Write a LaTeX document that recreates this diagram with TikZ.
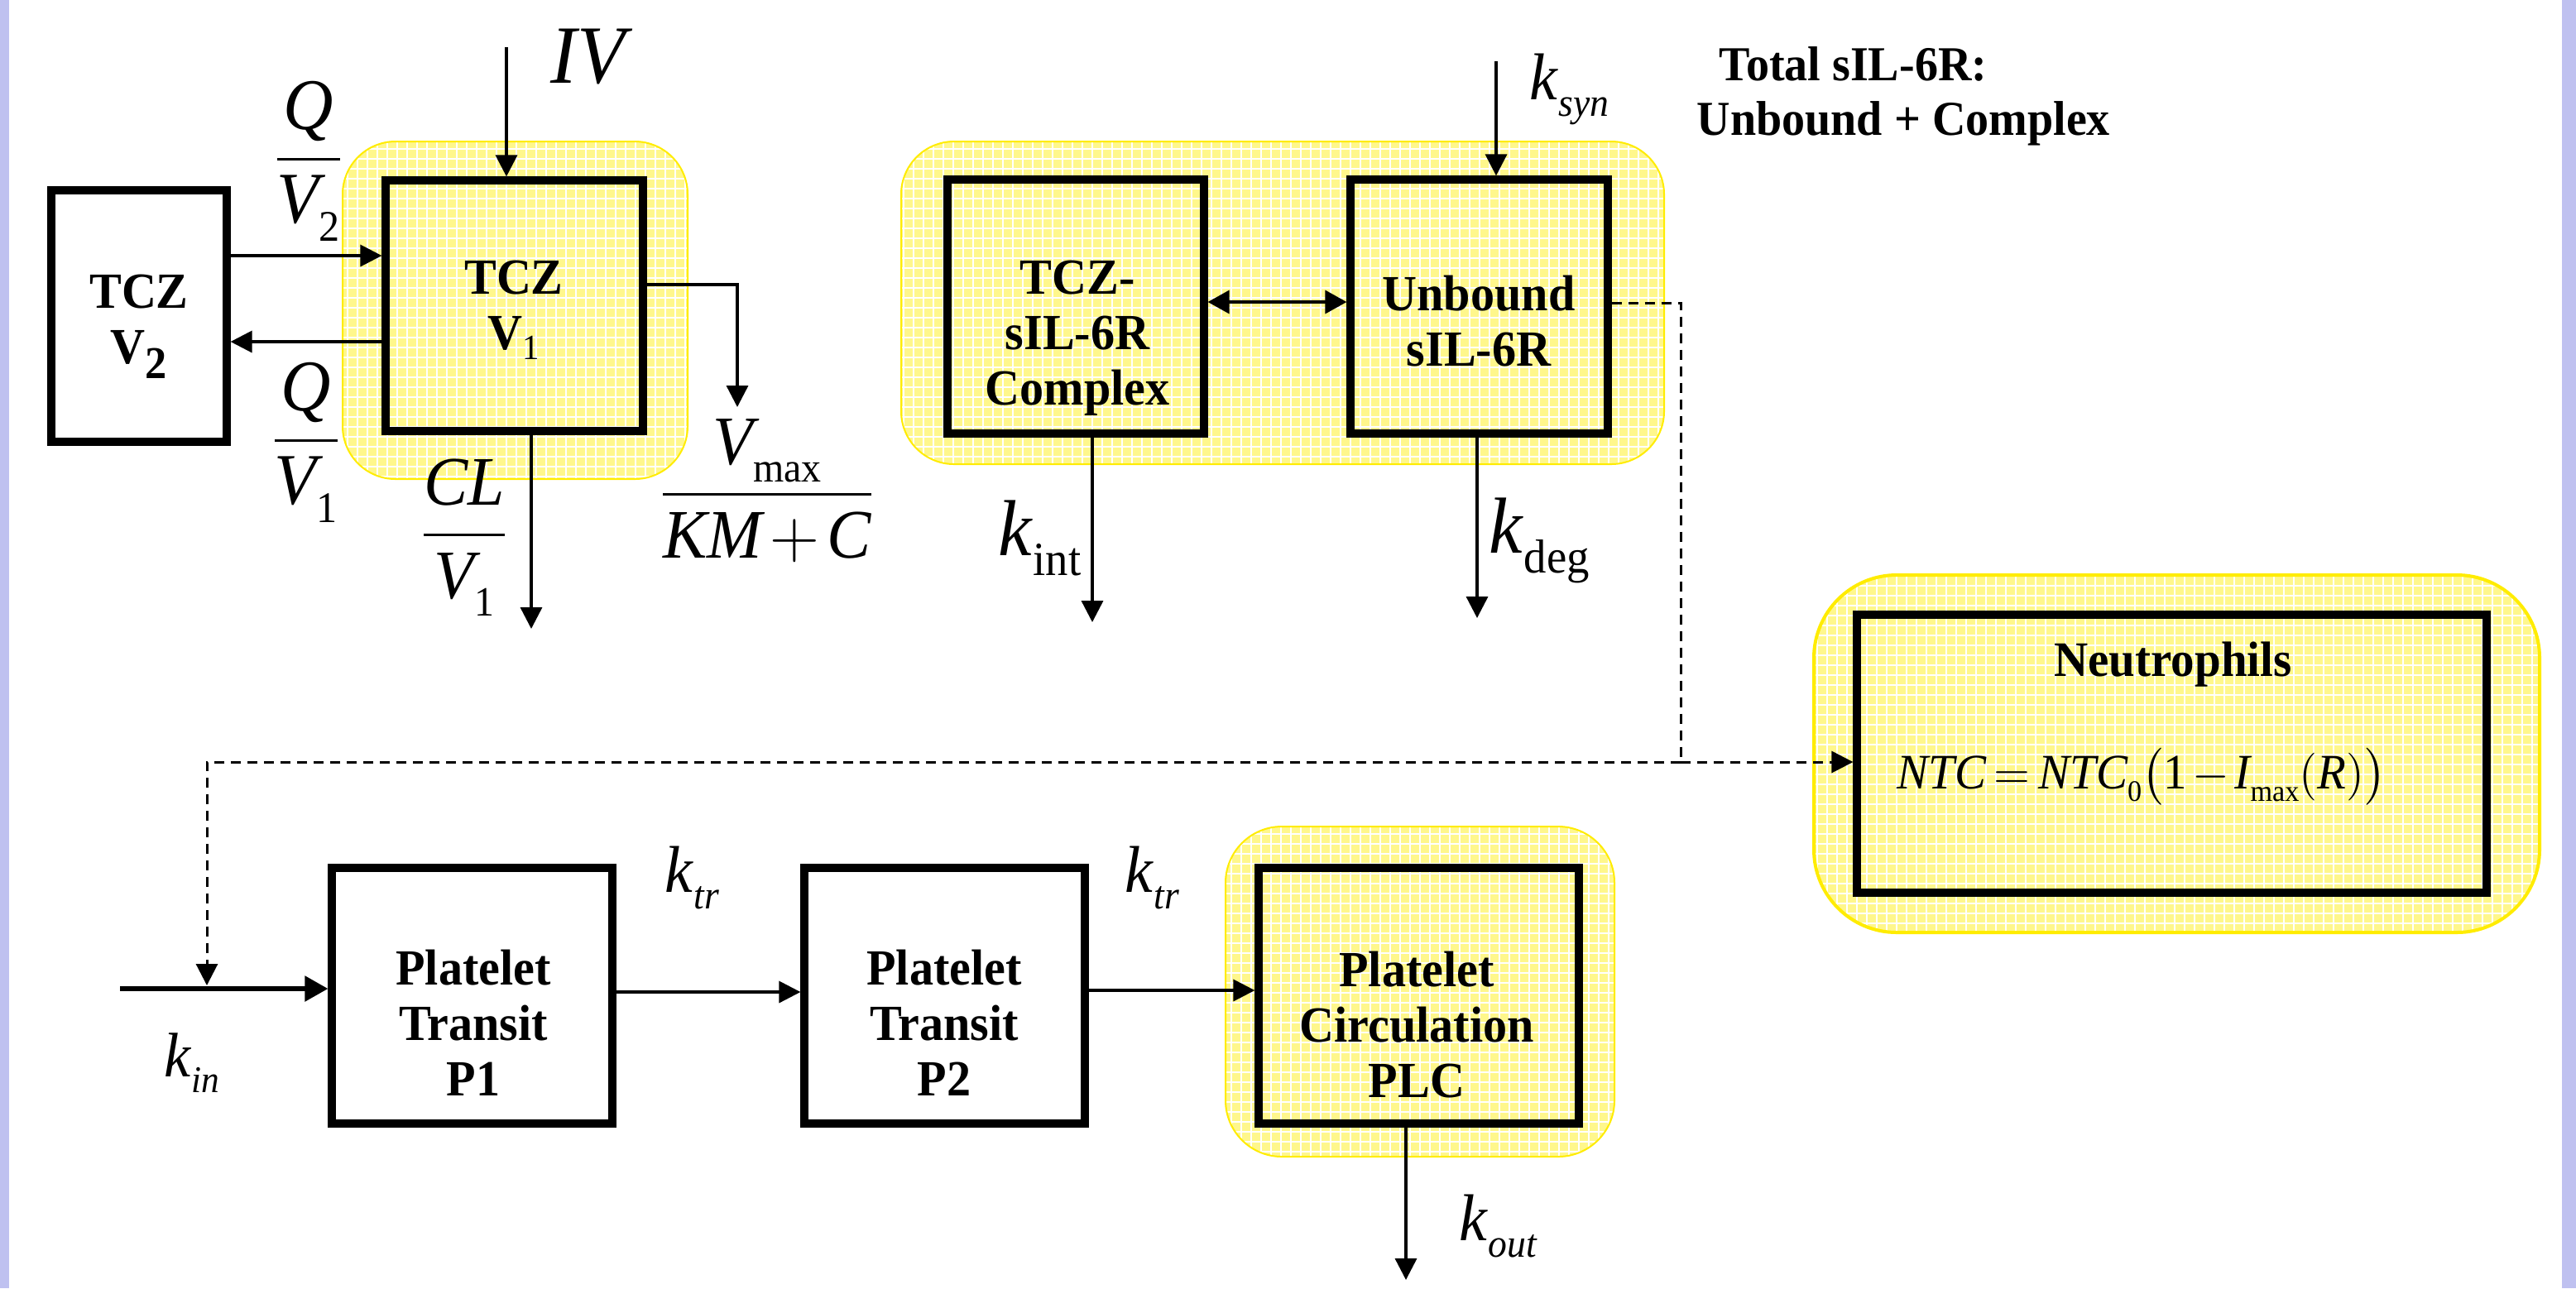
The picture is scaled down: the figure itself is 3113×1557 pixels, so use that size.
\documentclass[tikz,border=0pt]{standalone}
\usepackage{fontspec}
\setmainfont{Liberation Serif}[FakeStretch=0.95]
\usepackage{amsmath}
\usetikzlibrary{arrows.meta}
\definecolor{bandblue}{RGB}{191,193,240}
\definecolor{halofill}{RGB}{255,247,140}
\definecolor{haloline}{RGB}{255,236,0}
\newcommand\sbs[1]{\raisebox{-0.25em}{\scalebox{0.6}{#1}}}
\newcommand\myhalo[5]{%
  \begin{scope}
    \clip[rounded corners=#5] (#1,#2) rectangle (#3,#4);
    \fill[halofill] (#1,#2) rectangle (#3,#4);
    \draw[white, line width=0.4pt, step=3pt] (#1,#2) grid (#3,#4);
  \end{scope}}
\begin{document}
\begin{tikzpicture}[x=0.25pt,y=-0.25pt,
  box/.style={draw, line width=2.3pt, inner sep=0pt, rectangle},
  sz/.style 2 args={minimum width=#1*0.25pt, minimum height=#2*0.25pt},
  btxt/.style={font=\fontsize{15.3pt}{16.75pt}\selectfont\bfseries, align=center, inner sep=0pt},
  lbl/.style={inner sep=0pt, anchor=base},
  lblw/.style={inner sep=0pt, anchor=base west},
  arr/.style={line width=0.85pt, -{Triangle[length=6.5pt,width=6.5pt]}},
  darr/.style={line width=0.85pt, {Triangle[length=6.5pt,width=7pt]}-{Triangle[length=6.5pt,width=7pt]}},
  thickarr/.style={line width=1.35pt, -{Triangle[length=7pt,width=7.5pt]}},
  dsh/.style={line width=0.75pt, dash pattern=on 3pt off 2pt},
  dtip/.style={-{Triangle[length=6.5pt,width=6.5pt]}},
  haloedge/.style={draw=haloline, line width=0.5pt}
]
\useasboundingbox (0,0) rectangle (3113,1557);
\fill[white] (0,0) rectangle (3113,1557);
\fill[bandblue] (0,0) rectangle (11,1557);
\fill[bandblue] (3096,0) rectangle (3113,1557);

% halos
\myhalo{414}{171}{831}{579}{16pt}
\draw[haloedge, rounded corners=16pt] (414,171) rectangle (831,579);
\myhalo{1089}{171}{2011}{561}{16pt}
\draw[haloedge, rounded corners=16pt] (1089,171) rectangle (2011,561);
\myhalo{1481}{999}{1951}{1398}{17pt}
\draw[haloedge, rounded corners=17pt] (1481,999) rectangle (1951,1398);
\myhalo{2192}{695}{3069}{1127}{25pt}
\draw[draw=haloline, line width=1pt, rounded corners=25pt] (2192,695) rectangle (3069,1127);

% boxes
\node[box, sz={212}{304}] (v2) at (168,382) {};
\node[box, sz={311}{303}] (v1) at (621.5,369.5) {};
\node[box, sz={310}{307}] (cx) at (1300,370.5) {};
\node[box, sz={311}{307}] (ub) at (1787.5,370.5) {};
\node[box, sz={761}{336}] (nt) at (2624.5,911) {};
\node[box, sz={339}{309}] (p1) at (570.5,1203.5) {};
\node[box, sz={339}{309}] (p2) at (1141.5,1203.5) {};
\node[box, sz={387}{309}] (plc) at (1714.5,1203.5) {};

% box texts
\node[btxt] (v2t) at (168,395) {TCZ\\V\raisebox{-0.3em}{\scalebox{0.9}{2}}};
\node[btxt] (v1t) at (621,375) {TCZ\\V\raisebox{-0.2em}{\scalebox{0.7}{\mdseries 1}}};
\node[btxt] (cxt) at (1302,409) {TCZ-\\sIL-6R\\Complex};
\node[btxt] (ubt) at (1787,388) {Unbound\\sIL-6R};
\node[btxt] (p1t) at (572,1236) {Platelet\\Transit\\P1};
\node[btxt] (p2t) at (1141,1236) {Platelet\\Transit\\P2};
\node[btxt] (plct) at (1712,1239) {Platelet\\Circulation\\PLC};
\node[lbl, font=\fontsize{15pt}{16.75pt}\selectfont\bfseries] (ntt) at (2626,817) {Neutrophils};
\node[lbl, font=\fontsize{15pt}{18pt}\selectfont] (ntf) at (2588,953)
  {$\thickmuskip=3mu \medmuskip=2mu \textit{NTC}=\textit{NTC}\sbs{0}\bigl(\text{1}-\textit{I}\sbs{max}(\textit{R})\bigr)$};
\node[lblw, font=\fontsize{14.75pt}{16.5pt}\selectfont\bfseries] (tot1) at (2077,97) {Total sIL-6R:};
\node[lblw, font=\fontsize{14.75pt}{16.5pt}\selectfont\bfseries] (tot2) at (2050,163) {Unbound + Complex};

% labels
\node[lbl, font=\fontsize{25pt}{30pt}\selectfont] (iv) at (715,100) {\textit{IV}};
\node[lbl, font=\fontsize{22pt}{26pt}\selectfont] (qv2) at (373,213) {$\dfrac{\textit{Q}}{\textit{V}\sbs{2}}$};
\node[lbl, font=\fontsize{22pt}{26pt}\selectfont] (qv1) at (370,553) {$\dfrac{\textit{Q}}{\textit{V}\sbs{1}}$};
\node[lbl, font=\fontsize{21pt}{26pt}\selectfont] (clv1) at (561,667) {$\dfrac{\textit{CL}}{\textit{V}\sbs{1}}$};
\node[lbl, font=\fontsize{21pt}{26pt}\selectfont] (vmx) at (927,618) {$\medmuskip=2mu\dfrac{\textit{V}\sbs{max}}{\textit{KM}+\textit{C}}$};
\node[lblw, font=\fontsize{20pt}{24pt}\selectfont] (ksyn) at (1848,120) {\textit{k}\sbs{\textit{syn}}};
\node[lblw, font=\fontsize{24pt}{28pt}\selectfont] (kint) at (1206,671) {\textit{k}\sbs{int}};
\node[lblw, font=\fontsize{24pt}{28pt}\selectfont] (kdeg) at (1799,668) {\textit{k}\sbs{deg}};
\node[lblw, font=\fontsize{20pt}{24pt}\selectfont] (ktra) at (803,1078) {\textit{k}\sbs{\textit{tr}}};
\node[lblw, font=\fontsize{20pt}{24pt}\selectfont] (ktrb) at (1359,1078) {\textit{k}\sbs{\textit{tr}}};
\node[lblw, font=\fontsize{19pt}{24pt}\selectfont] (kin) at (198,1301) {\textit{k}\sbs{\textit{in}}};
\node[lblw, font=\fontsize{20pt}{24pt}\selectfont] (kout) at (1763,1499) {\textit{k}\sbs{\textit{out}}};

% free ends
\coordinate (ivs) at (612,57);
\coordinate (mme) at (891,492);
\coordinate (cle) at (642,760);
\coordinate (syns) at (1808,74);
\coordinate (inte) at (1320,752);
\coordinate (dege) at (1785,747);
\coordinate (dj) at (2031,921);
\coordinate (kinhit) at (250,1191);
\coordinate (kins) at (145,1195);
\coordinate (oute) at (1699,1547);

% connectors
\draw[arr] (ivs) -- (ivs |- v1.north);
\draw[arr] (v2.east |- 0,309) -- (v1.west |- 0,309);
\draw[arr] (v1.west |- 0,413) -- (v2.east |- 0,413);
\draw[arr] (v1.east |- 0,344) -| (mme);
\draw[arr] (v1.south -| cle) -- (cle);
\draw[darr] (cx.east |- 0,365) -- (ub.west |- 0,365);
\draw[arr] (syns) -- (syns |- ub.north);
\draw[arr] (cx.south -| inte) -- (inte);
\draw[arr] (ub.south -| dege) -- (dege);
\draw[dsh] (ub.east |- 0,366) -| (dj);
\draw[dsh, dtip] (dj) -- (nt.west |- dj);
\draw[dsh, dtip] (dj) -| (kinhit);
\draw[thickarr] (kins) -- (p1.west |- kins);
\draw[arr] (p1.east |- 0,1199) -- (p2.west |- 0,1199);
\draw[arr] (p2.east |- 0,1197) -- (plc.west |- 0,1197);
\draw[arr] (plc.south -| oute) -- (oute);
\end{tikzpicture}
\end{document}
